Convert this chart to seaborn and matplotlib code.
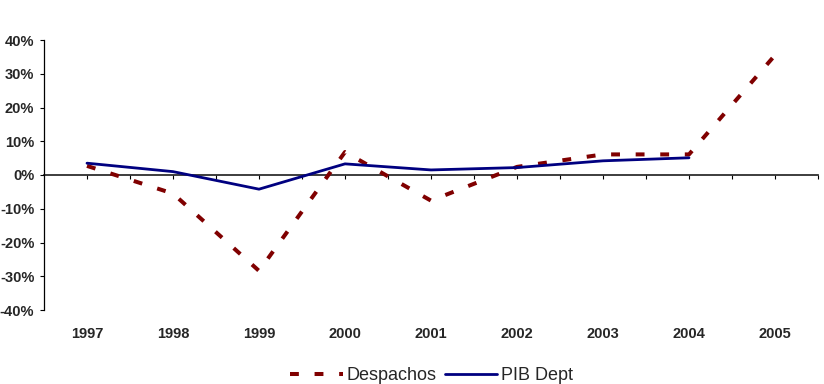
import matplotlib
matplotlib.use("Agg")
import matplotlib.pyplot as plt
import seaborn as sns
import pandas as pd
import numpy as np
from matplotlib.ticker import FuncFormatter, FixedLocator

years = [1997, 1998, 1999, 2000, 2001, 2002, 2003, 2004, 2005]
despachos = [2.7, -5.5, -28.4, 6.8, -7.6, 2.4, 6.1, 6.1, 35.5]
pib_years = [1997, 1998, 1999, 2000, 2001, 2002, 2003, 2004]
pib_dept = [3.5, 1.0, -4.2, 3.3, 1.5, 2.2, 4.2, 5.1]
year_labels = [str(y) for y in years]
y_ticks = [-40, -30, -20, -10, 0, 10, 20, 30, 40]

sns.set_theme(style="white")
plt.rcParams['font.family'] = ['Liberation Sans', 'DejaVu Sans']

fig = plt.figure(figsize=(8.24, 3.84), dpi=100)
ax = fig.add_axes([44/824, 1-310/384, 774/824, 270/384])

df_d = pd.DataFrame({"year": years, "value": despachos})
df_p = pd.DataFrame({"year": pib_years, "value": pib_dept})

sns.lineplot(data=df_d, x="year", y="value", ax=ax, color="#800000",
             linewidth=2.9, label="Despachos")
sns.lineplot(data=df_p, x="year", y="value", ax=ax, color="#000080",
             linewidth=2.0, label="PIB Dept")
ln_d = ax.lines[0]
ln_d.set_dashes((2.2, 3.9))
ln_d.set_dash_capstyle('butt')

ax.set_xlim(1996.5, 2005.5)
ax.set_ylim(-40, 40)
ax.set_xlabel("")
ax.set_ylabel("")

# y axis
ax.set_yticks(y_ticks)
ax.yaxis.set_major_formatter(FuncFormatter(lambda v, p: f"{int(v)}%"))
ax.tick_params(axis='y', which='major', left=True, length=3, width=0.8,
               color='black', pad=4, labelsize=10.5)
for lab in ax.get_yticklabels():
    lab.set_fontweight('bold')

# x labels at bottom (no spine there)
ax.set_xticks(years)
ax.set_xticklabels(year_labels, fontweight='bold', fontsize=10.5)
ax.tick_params(axis='x', which='major', bottom=True, length=0, pad=12)

for s in ['top', 'right', 'bottom']:
    ax.spines[s].set_visible(False)
ax.spines['left'].set_color('black')
ax.spines['left'].set_linewidth(0.9)

# zero line axis with tick marks
sec = ax.secondary_xaxis(0.5)
sec.xaxis.set_major_locator(FixedLocator(list(np.arange(1997, 2005.51, 0.5))))
sec.tick_params(axis='x', direction='in', length=3, width=0.8, color='black',
                labelbottom=False)
sec.set_xticklabels([])
sec.spines['bottom'].set_color('#808080')
sec.spines['bottom'].set_linewidth(1.3)

ax.get_legend().remove()
handles = ax.lines[:2]
leg = fig.legend(handles, ["Despachos", "PIB Dept"], loc='center',
                 bbox_to_anchor=(0.5237, 0.022), ncol=2, frameon=False,
                 fontsize=13, handlelength=2.9, handletextpad=0.2,
                 columnspacing=0.45, borderpad=0)

fig.savefig("out.png", dpi=100)
